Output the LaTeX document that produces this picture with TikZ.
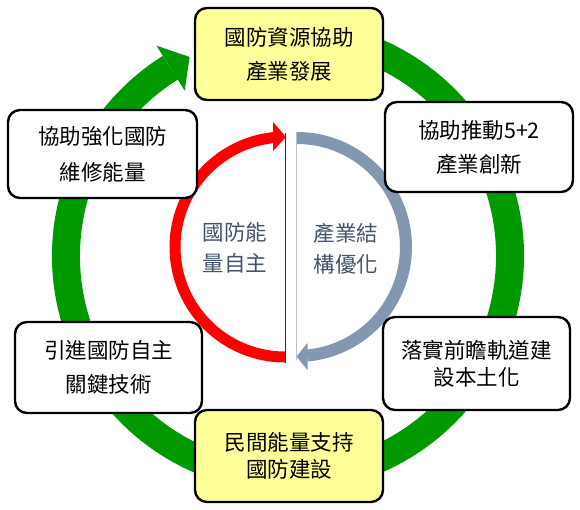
\documentclass[tikz,border=0pt]{standalone}
\usepackage{fontspec}
\newfontfamily\cjk{Noto Sans CJK TC}
\definecolor{ringgreen}{HTML}{009900}
\definecolor{boxyellow}{HTML}{FFFF99}
\definecolor{slate}{HTML}{8497B0}
\definecolor{slatetext}{HTML}{44546A}
\definecolor{redarc}{HTML}{FF0000}
\begin{document}
\begin{tikzpicture}[x=1pt,y=1pt,
  box/.style={draw=black, fill=white, line width=2.4pt, rounded corners=12pt, inner sep=0pt, align=center},
  yellowbox/.style={box, fill=boxyellow},
  lbl/.style={font=\cjk\fontsize{21.5}{34}\selectfont},
  lbltight/.style={font=\cjk\fontsize{21.5}{27.5}\selectfont},
  midtext/.style={inner sep=0pt, align=center, text=slatetext, font=\cjk\fontsize{21.5}{30.5}\selectfont}]
\fill[white] (0,0) rectangle (580,510);
\useasboundingbox (0,0) rectangle (580,510);

% green ring with arrowhead
\coordinate (gc) at (288,254);
\draw[ringgreen, line width=28pt] ([shift={(75:222)}]gc) arc[start angle=75, end angle=-238, radius=222];
\fill[ringgreen, shift={(288,254)}] (122:248) -- (116.3:222) -- (122:195) -- cycle;

% red half ring
\coordinate (rc) at (285,263);
\draw[redarc, line width=11pt] ([shift={(270:110)}]rc) arc[start angle=270, end angle=96, radius=110];
\fill[redarc] (273,388) -- (286,373) -- (273,359) -- cycle;

% grey half ring
\coordinate (sc) at (297,263);
\draw[slate, line width=12pt] ([shift={(90:109)}]sc) arc[start angle=90, end angle=-84.7, radius=109];
\fill[slate] (307.5,167) -- (296.5,153.5) -- (307.5,140) -- cycle;

% flat sides
\coordinate (la) at (285,377);
\coordinate (lb) at (285,147);
\coordinate (ga) at (296.5,378);
\coordinate (gb) at (296.5,150);
\draw[black!80, line width=0.9pt] (la) -- (lb);
\draw[slate!60, line width=0.9pt] (ga) -- (gb);

% center texts
\node[midtext] (left) at (235,262) {國防能\\量自主};
\node[midtext] (right) at (346,261) {產業結\\構優化};

% boxes
\node[yellowbox, lbl, minimum width=188pt, minimum height=92pt] (top) at (289,456) {國防資源協助\\產業發展};
\node[box, lbl, font=\cjk\fontsize{21.5}{36}\selectfont, minimum width=189pt, minimum height=88pt] (tl) at (102.5,356) {協助強化國防\\維修能量};
\node[box, lbl, minimum width=188pt, minimum height=90pt] (tr) at (479,363) {協助推動5+2\\產業創新};
\node[box, lbl, minimum width=187pt, minimum height=91pt] (bl) at (108.5,142.5) {引進國防自主\\關鍵技術};
\node[box, lbltight, minimum width=187pt, minimum height=93pt] (br) at (476.5,146.5) {落實前瞻軌道建\\設本土化};
\node[yellowbox, lbltight, minimum width=188pt, minimum height=92pt] (bot) at (289,54) {民間能量支持\\國防建設};
\end{tikzpicture}
\end{document}
